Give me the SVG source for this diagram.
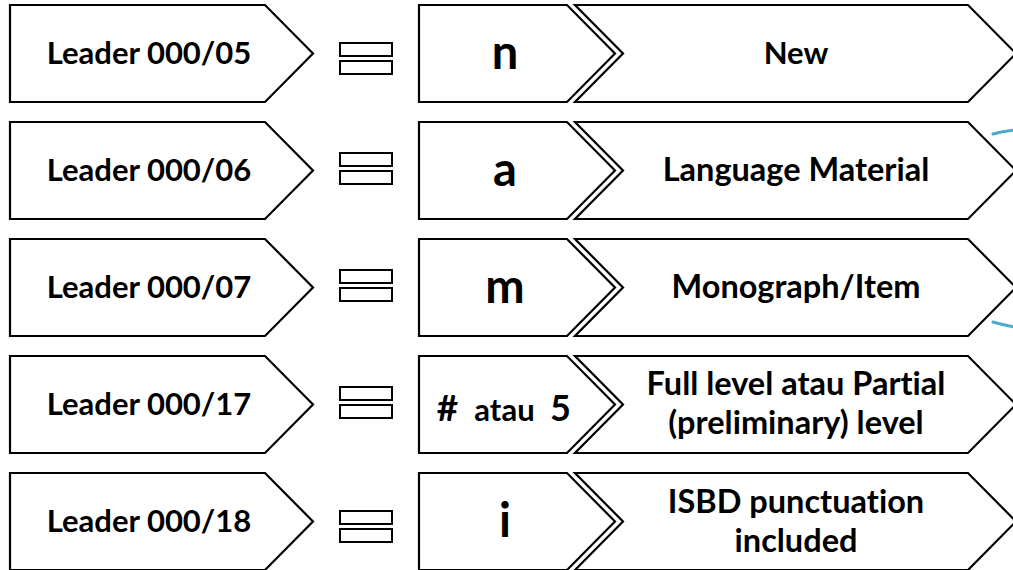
<svg xmlns="http://www.w3.org/2000/svg" width="1013" height="570" viewBox="0 0 1013 570">
<defs>
<style>
.shape{fill:#fff;stroke:#000;stroke-width:2.2;stroke-linejoin:miter}
.eq{fill:#fff;stroke:#000;stroke-width:2}
text{font-family:Lato,"Liberation Sans",sans-serif;font-weight:bold;fill:#000;text-anchor:middle;font-variant-ligatures:none}
.lead{font-size:31px}
.val{font-size:47px}
.desc{font-size:32.5px}
.brace{fill:none;stroke:#4BACC6;stroke-width:3;stroke-linecap:round}
</style>
</defs>
<rect width="1013" height="570" fill="#fff"/>

<g id="row1" transform="translate(0,5)">
<path class="shape" d="M10,0 L265,0 L313,48.5 L265,97 L10,97 Z"/>
<rect class="eq" x="340" y="38" width="52" height="13"/>
<rect class="eq" x="340" y="56" width="52" height="13"/>
<path class="shape" d="M419,0 L567,0 L615,48.5 L567,97 L419,97 Z"/>
<path class="shape" d="M575,0 L968,0 L1016,48.5 L968,97 L575,97 L623,48.5 Z"/>
<text class="lead" x="149" y="59">Leader 000/05</text>
<text class="val" x="505" y="64">n</text>
<text class="desc" x="796" y="59" style="font-size:31px">New</text>
</g>

<g id="row2" transform="translate(0,122)">
<path class="shape" d="M10,0 L265,0 L313,48.5 L265,97 L10,97 Z"/>
<rect class="eq" x="340" y="31" width="52" height="13"/>
<rect class="eq" x="340" y="49" width="52" height="13"/>
<path class="shape" d="M419,0 L567,0 L615,48.5 L567,97 L419,97 Z"/>
<path class="shape" d="M575,0 L968,0 L1016,48.5 L968,97 L575,97 L623,48.5 Z"/>
<text class="lead" x="149" y="59">Leader 000/06</text>
<text class="val" x="505" y="64">a</text>
<text class="desc" x="796" y="59">Language Material</text>
</g>

<g id="row3" transform="translate(0,239)">
<path class="shape" d="M10,0 L265,0 L313,48.5 L265,97 L10,97 Z"/>
<rect class="eq" x="340" y="31" width="52" height="13"/>
<rect class="eq" x="340" y="49" width="52" height="13"/>
<path class="shape" d="M419,0 L567,0 L615,48.5 L567,97 L419,97 Z"/>
<path class="shape" d="M575,0 L968,0 L1016,48.5 L968,97 L575,97 L623,48.5 Z"/>
<text class="lead" x="149" y="59">Leader 000/07</text>
<text class="val" x="505" y="64">m</text>
<text class="desc" x="796" y="59">Monograph/Item</text>
</g>

<g id="row4" transform="translate(0,356)">
<path class="shape" d="M10,0 L265,0 L313,48.5 L265,97 L10,97 Z"/>
<rect class="eq" x="340" y="31" width="52" height="13"/>
<rect class="eq" x="340" y="49" width="52" height="13"/>
<path class="shape" d="M419,0 L567,0 L615,48.5 L567,97 L419,97 Z"/>
<path class="shape" d="M575,0 L968,0 L1016,48.5 L968,97 L575,97 L623,48.5 Z"/>
<text class="lead" x="149" y="59">Leader 000/17</text>
<text x="447.5" y="65" style="font-size:37px">#</text>
<text x="504.5" y="65" style="font-size:31px">atau</text>
<text x="560.5" y="65" style="font-size:36px">5</text>
<text class="desc" x="796" y="39">Full level atau Partial</text>
<text class="desc" x="796" y="78">(preliminary) level</text>
</g>

<g id="row5" transform="translate(0,473)">
<path class="shape" d="M10,0 L265,0 L313,48.5 L265,97 L10,97 Z"/>
<rect class="eq" x="340" y="38" width="52" height="13"/>
<rect class="eq" x="340" y="56" width="52" height="13"/>
<path class="shape" d="M419,0 L567,0 L615,48.5 L567,97 L419,97 Z"/>
<path class="shape" d="M575,0 L968,0 L1016,48.5 L968,97 L575,97 L623,48.5 Z"/>
<text class="lead" x="149" y="59">Leader 000/18</text>
<text class="val" x="505" y="64">i</text>
<text class="desc" x="796" y="40">ISBD punctuation</text>
<text class="desc" x="796" y="79">included</text>
</g>

<g id="connectors">
<path class="brace" d="M993,134 Q1003,131 1015,130"/>
<path class="brace" d="M993,322 Q1003,325 1015,327"/>
</g>
</svg>
